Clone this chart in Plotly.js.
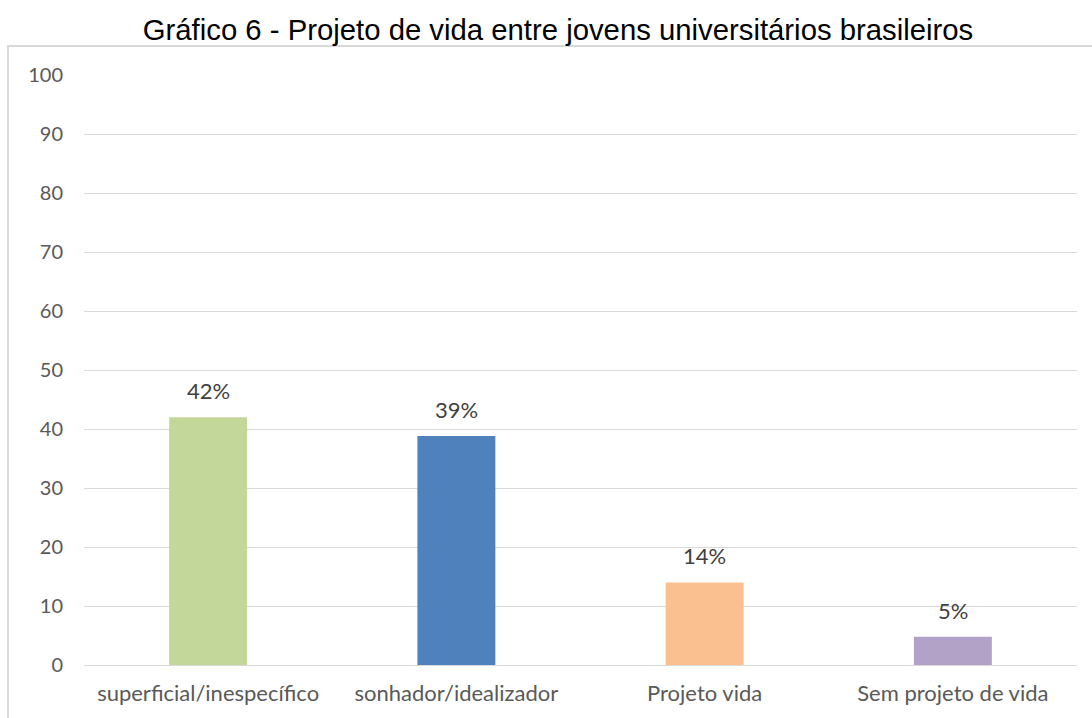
<!DOCTYPE html>
<html>
<head>
<meta charset="utf-8">
<script src="https://cdn.plot.ly/plotly-3.0.1.min.js"></script>
<style>html,body{margin:0;padding:0;background:#fff;}#chart{width:1092px;height:718px;}</style>
</head>
<body>
<div id="chart"></div>
<script>
var categories = ["superficial/inespecífico", "sonhador/idealizador", "Projeto vida", "Sem projeto de vida"];
var values = [42, 38.8, 14, 4.8];
var valueLabels = ["42%", "39%", "14%", "5%"];
var barColors = ["#c4d79b", "#4f81bd", "#fac090", "#b3a2c7"];
var yTicks = [0, 10, 20, 30, 40, 50, 60, 70, 80, 90, 100];

var trace = {
  type: "bar",
  x: categories,
  y: values,
  marker: {color: barColors},
  hoverinfo: "skip"
};

var annotations = categories.map(function (c, i) {
  return {
    x: c, y: values[i], xref: "x", yref: "y",
    text: valueLabels[i], showarrow: false,
    yanchor: "bottom", yshift: 11,
    font: {family: "Lato, Carlito, sans-serif", size: 22, color: "#404040"}
  };
});

var layout = {
  width: 1092, height: 718,
  margin: {l: 84, r: 15, t: 75, b: 53},
  paper_bgcolor: "#fff", plot_bgcolor: "#fff",
  bargap: 0.686,
  showlegend: false,
  title: {
    text: "Gráfico 6 - Projeto de vida entre jovens universitários brasileiros",
    font: {family: "Liberation Sans, Arial, sans-serif", size: 29.3, color: "#000"},
    x: 0.511, xref: "container", xanchor: "center", y: 0.958, yanchor: "middle"
  },
  xaxis: {
    type: "category",
    tickfont: {family: "Lato, Carlito, sans-serif", size: 22, color: "#595959"},
    showgrid: false, showline: false, ticks: "",
    ticklabelstandoff: 13,
    fixedrange: true
  },
  yaxis: {
    range: [0, 100],
    tickvals: yTicks,
    ticktext: yTicks.map(String),
    tickfont: {family: "Lato, Carlito, sans-serif", size: 20, color: "#595959"},
    showgrid: true, gridcolor: "#d9d9d9", gridwidth: 1,
    zeroline: true, zerolinecolor: "#d9d9d9", zerolinewidth: 1,
    showline: false, ticks: "",
    ticklabelstandoff: 20,
    fixedrange: true
  },
  annotations: annotations,
  shapes: [{
    type: "rect", xref: "paper", yref: "paper",
    x0: -0.0765, x1: 1.1, y0: -0.2, y1: 1.049,
    line: {color: "#d9d9d9", width: 2}, fillcolor: "rgba(0,0,0,0)",
    layer: "below"
  }]
};

Plotly.newPlot("chart", [trace], layout, {displayModeBar: false, staticPlot: true});
</script>
</body>
</html>
